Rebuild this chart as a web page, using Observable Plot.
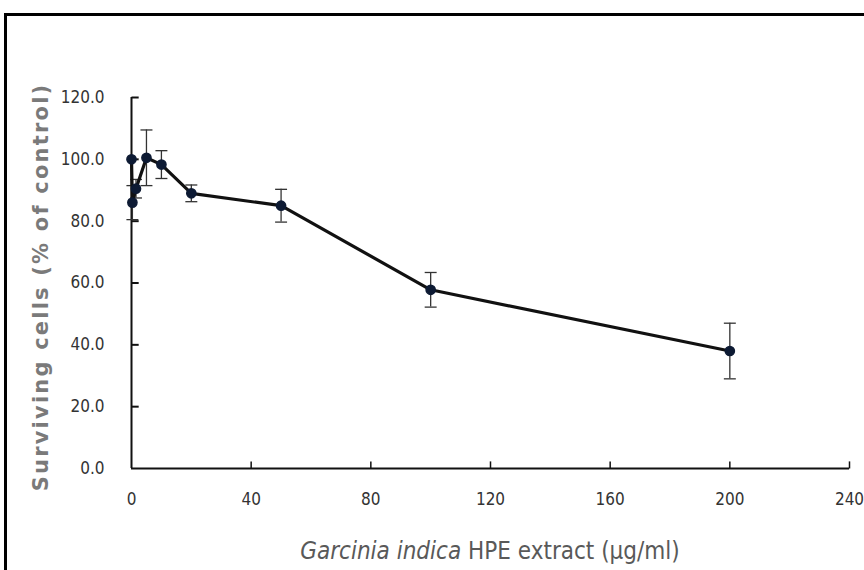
<!DOCTYPE html>
<html>
<head>
<meta charset="utf-8">
<script src="https://cdn.jsdelivr.net/npm/d3@7"></script>
<script src="https://cdn.jsdelivr.net/npm/@observablehq/plot@0.6"></script>
<style>
  html, body { margin: 0; padding: 0; background: #fff; }
  #wrap { position: relative; width: 864px; height: 570px; overflow: hidden; }
  #frame { position: absolute; left: 4px; top: 13px; width: 900px; height: 600px;
           border-top: 3px solid #000; border-left: 3px solid #000; box-sizing: border-box; }
  #chart { position: absolute; left: 0; top: 0; }
</style>
</head>
<body>
<div id="wrap"><div id="frame"></div><div id="chart"></div></div>
<script>
// Data
const dose = [0, 0.3, 1.5, 5, 10, 20, 50, 100, 200];          // µg/ml
const surviving = [100, 86, 90.5, 100.5, 98.3, 89, 85, 57.8, 38]; // % of control
const errorSd = [0, 5.5, 3, 9, 4.5, 2.7, 5.3, 5.6, 9];
const xTicks = [0, 40, 80, 120, 160, 200, 240];
const yTicks = [0, 20, 40, 60, 80, 100, 120];

const data = dose.map((x, i) => ({x, y: surviving[i], lo: surviving[i] - errorSd[i], hi: surviving[i] + errorSd[i]}));
const bars = data.filter(d => d.hi > d.lo);

const tickFont = "'Liberation Sans Narrow', 'DejaVu Sans Condensed', 'Roboto Condensed', sans-serif";

const plot = Plot.plot({
  width: 864,
  height: 570,
  marginLeft: 131,
  marginRight: 15,
  marginTop: 97,
  marginBottom: 102,
  x: {domain: [0, 240]},
  y: {domain: [0, 120]},
  style: {background: "transparent", overflow: "visible"},
  marks: [
    // axis lines
    Plot.ruleX([0], {stroke: "#111", strokeWidth: 2}),
    Plot.ruleY([0], {stroke: "#111", strokeWidth: 2}),
    // inward ticks
    Plot.link(yTicks.filter(v => v > 0), {x1: 0, x2: 2.4, y1: d => d, y2: d => d, stroke: "#111", strokeWidth: 2}),
    Plot.link(xTicks.filter(v => v > 0), {y1: 0, y2: 2.3, x1: d => d, x2: d => d, stroke: "#111", strokeWidth: 1.5}),
    // tick labels
    Plot.axisY(yTicks, {tickSize: 0, tickPadding: 27, tickFormat: d3.format(".1f"), fontSize: 17,
      fontFamily: tickFont, fill: "#333", label: null}),
    Plot.axisX(xTicks, {tickSize: 0, tickPadding: 24, fontSize: 17,
      fontFamily: tickFont, fill: "#333", label: null}),
    // error bars
    Plot.ruleX(bars, {x: "x", y1: "lo", y2: "hi", stroke: "#333", strokeWidth: 1.3}),
    Plot.link(bars, {x1: d => d.x - 2, x2: d => d.x + 2, y1: "hi", y2: "hi", stroke: "#333", strokeWidth: 1.3}),
    Plot.link(bars, {x1: d => d.x - 2, x2: d => d.x + 2, y1: "lo", y2: "lo", stroke: "#333", strokeWidth: 1.3}),
    // line + points
    Plot.line(data, {x: "x", y: "y", stroke: "#111", strokeWidth: 3.2}),
    Plot.dot(data, {x: "x", y: "y", r: 4.6, fill: "#0d1a33", stroke: "#0d1a33"})
  ]
});

const svg = d3.select(plot);
// y-axis title
svg.append("text")
  .attr("transform", "translate(48,287) rotate(-90)")
  .attr("text-anchor", "middle")
  .attr("font-family", "'DejaVu Sans', Verdana, sans-serif")
  .attr("font-weight", "bold")
  .attr("font-size", 21)
  .attr("letter-spacing", "2.2px")
  .attr("fill", "#7a7a7a")
  .text("Surviving cells (% of control)");
// x-axis title
const xt = svg.append("text")
  .attr("x", 490).attr("y", 559)
  .attr("text-anchor", "middle")
  .attr("font-family", tickFont)
  .attr("font-size", 24)
  .attr("fill", "#595959");
xt.append("tspan").attr("font-style", "italic").text("Garcinia indica");
xt.append("tspan").text(" HPE extract (µg/ml)");

document.getElementById("chart").appendChild(plot);
</script>
</body>
</html>
